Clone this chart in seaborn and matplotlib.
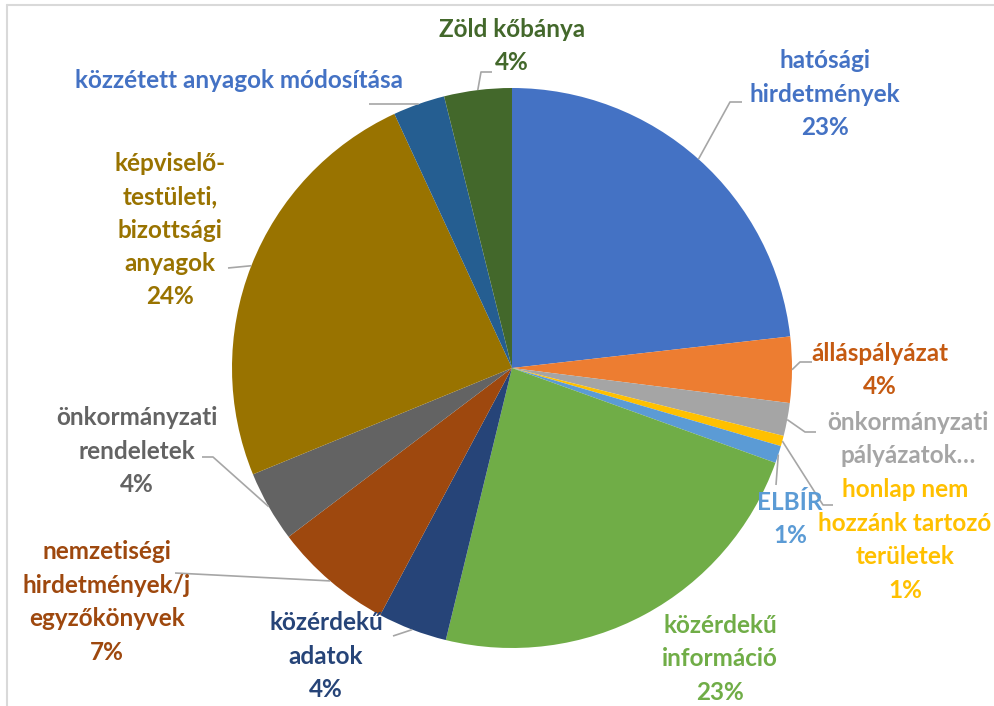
import numpy as np
import matplotlib.pyplot as plt
import seaborn as sns
from matplotlib.lines import Line2D

# slices, clockwise from 12 o'clock
labels = [
    "hatósági\nhirdetmények", "álláspályázat", "önkormányzati\npályázatok…",
    "honlap nem\nhozzánk tartozó\nterületek", "ELBÍR", "közérdekű\ninformáció",
    "közérdekű\nadatok", "nemzetiségi\nhirdetmények/j\negyzőkönyvek",
    "önkormányzati\nrendeletek", "képviselő-\ntestületi,\nbizottsági\nanyagok",
    "közzétett anyagok módosítása", "Zöld kőbánya",
]
values = [23.2, 3.8, 1.9, 0.6, 1.0, 23.3, 4.0, 6.9, 4.1, 24.3, 3.0, 3.9]
show_pct = [True, True, False, True, True, True, True, True, True, True, False, True]
colors = ["#4472C4", "#ED7D31", "#A5A5A5", "#FFC000", "#5B9BD5", "#70AD47",
          "#264478", "#9E480E", "#636363", "#997300", "#255E91", "#43682B"]
text_colors = ["#4472C4", "#C55A11", "#A5A5A5", "#FFC000", "#5B9BD5", "#70AD47",
               "#264478", "#9E480E", "#636363", "#997300", "#4472C4", "#43682B"]

sns.set_style("white")
plt.rcParams['font.family'] = ['Lato', 'DejaVu Sans']

W, H = 994, 706
CX, CY, R = 512, 368, 280


def px(x, y):
    # pixel position -> data coords (pie radius 1 at centre)
    return (x - CX) / R, (CY - y) / R


fig = plt.figure(figsize=(W / 100, H / 100), dpi=100)
ax = fig.add_axes([0, 0, 1, 1])

wedges, _ = ax.pie(values, colors=colors, startangle=90, counterclock=False,
                   radius=1, wedgeprops=dict(linewidth=0))

# pie() resets the limits, so set them afterwards
ax.set_xlim(px(0, 0)[0], px(W, 0)[0])
ax.set_ylim(px(0, H)[1], px(0, 0)[1])
ax.set_aspect('equal')
ax.axis('off')

# label centres (pixels) and leader elbows (pixels, None = no leader)
label_pos = [(825, 94), (880, 370), (908, 439), (905, 540), (790, 519), (720, 659),
             (326, 656), (107, 602), (137, 451), (170, 230), (239, 80), (512, 46)]
leaders = [
    [(730, 102), (742, 102)],
    [(800, 362), (812, 362)],
    [(805, 432), (816, 432)],
    [(823, 505), (833, 505)],
    [(776, 485)],
    None,
    [(393, 636)],
    [(175, 573)],
    [(213, 457), (202, 457)],
    [(228, 268)],
    [(395, 104), (369, 104)],
    [(481, 72), (492, 72)],
]

for w, lab, v, sp, tc, pos, ld in zip(wedges, labels, values, show_pct,
                                      text_colors, label_pos, leaders):
    txt = lab + (f"\n{round(v):.0f}%" if sp else "")
    x, y = px(*pos)
    ax.text(x, y, txt, ha='center', va='center', color=tc, fontsize=17.5,
            fontweight='bold', linespacing=1.55)
    if ld:
        mid = np.deg2rad((w.theta1 + w.theta2) / 2)
        xs = [np.cos(mid)] + [px(*p)[0] for p in ld]
        ys = [np.sin(mid)] + [px(*p)[1] for p in ld]
        ax.plot(xs, ys, color="#A6A6A6", lw=1.2, solid_capstyle='butt')

# chart-area frame, cropped at top/left
fig.add_artist(Line2D([7 / W, 1], [1 - 5 / H, 1 - 5 / H], color="#D9D9D9", lw=1.5))
fig.add_artist(Line2D([7 / W, 7 / W], [0, 1 - 5 / H], color="#D9D9D9", lw=1.5))

fig.savefig("out.png", dpi=100)
